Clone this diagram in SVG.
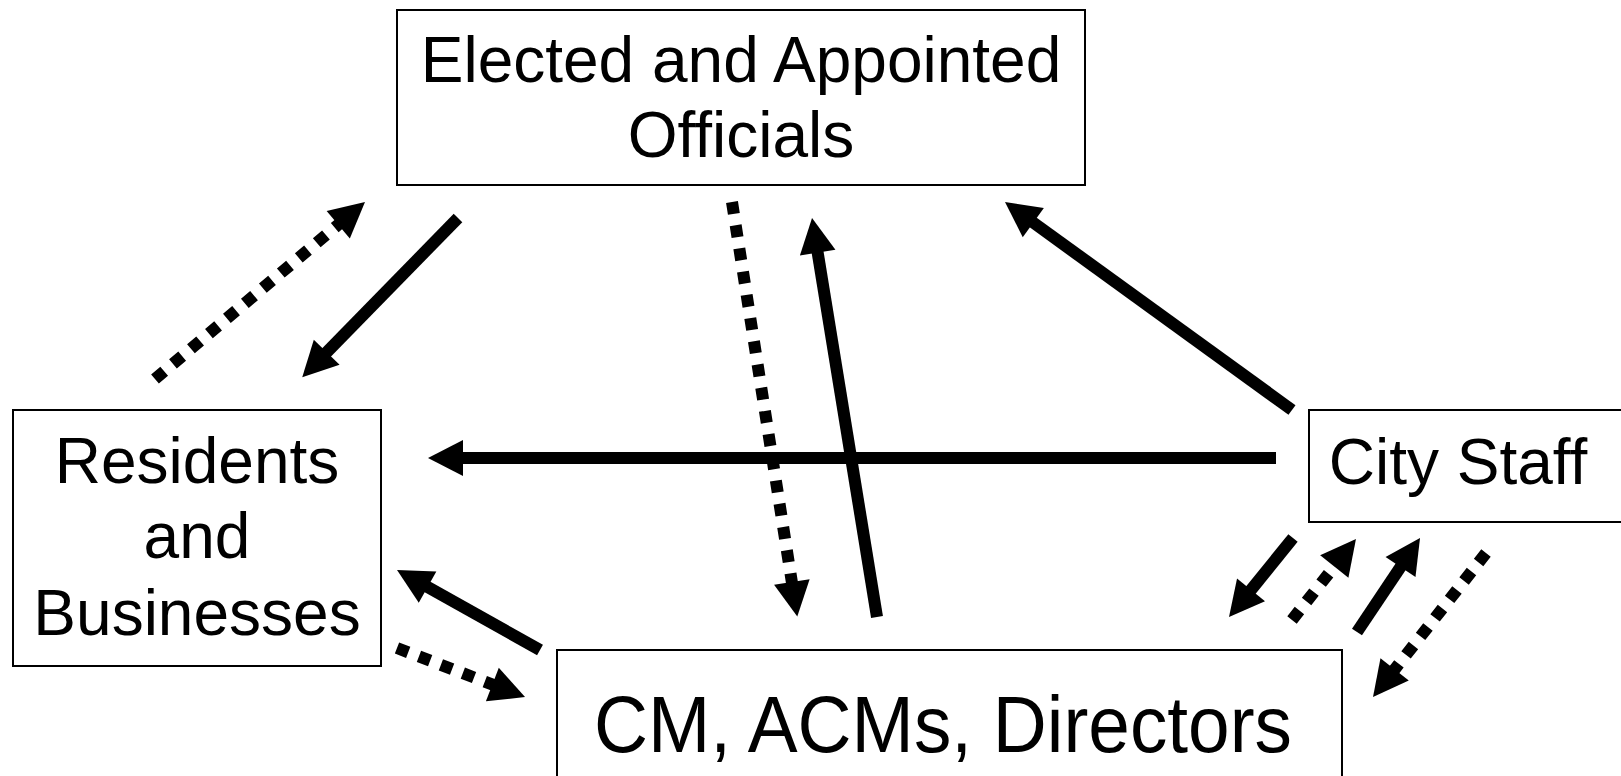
<svg xmlns="http://www.w3.org/2000/svg" width="1621" height="776" viewBox="0 0 1621 776">
<style>
.box{fill:#fff;stroke:#000;stroke-width:2}
.lbl{font-family:"Liberation Sans",Arial,sans-serif;font-size:64px;fill:#000;text-anchor:middle}
.solid{stroke:#000;stroke-width:12;fill:none;marker-end:url(#head)}
.dot{stroke:#000;stroke-width:12;fill:none;stroke-dasharray:12 11.5;marker-end:url(#head)}
</style>
<defs>
<marker id="head" markerUnits="userSpaceOnUse" markerWidth="40" markerHeight="40" viewBox="-2 -20 38 40" refX="0" refY="0" orient="auto">
<path d="M-1,-18 L34,0 L-1,18 Z" fill="#000"/>
</marker>
</defs>
<rect width="1621" height="776" fill="#fff"/>
<g id="elected">
<rect class="box" x="397" y="10" width="688" height="175"/>
<text class="lbl" x="741" y="82">Elected and Appointed</text>
<text class="lbl" x="741" y="157">Officials</text>
</g>
<g id="residents">
<rect class="box" x="13" y="410" width="368" height="256"/>
<text class="lbl" x="197" y="483">Residents</text>
<text class="lbl" x="197" y="558">and</text>
<text class="lbl" x="197" y="635">Businesses</text>
</g>
<g id="citystaff">
<rect class="box" x="1309" y="410" width="320" height="112"/>
<text class="lbl" x="1458" y="484">City Staff</text>
</g>
<g id="cm">
<rect class="box" x="557" y="650" width="785" height="140"/>
<text class="lbl" x="943" y="752" style="font-size:79px" textLength="698" lengthAdjust="spacingAndGlyphs">CM, ACMs, Directors</text>
</g>
<g id="connectors">
<line class="dot" x1="155" y1="379" x2="339" y2="224"/>
<line class="solid" x1="458" y1="218" x2="326" y2="353"/>
<line class="dot" x1="732" y1="202" x2="792" y2="583"/>
<line class="solid" x1="877" y1="617" x2="817.5" y2="251.6"/>
<line class="solid" x1="1276" y1="458" x2="462" y2="458"/>
<line class="solid" x1="1292" y1="410" x2="1032.5" y2="222"/>
<line class="solid" x1="540" y1="650" x2="426.7" y2="586.6"/>
<line class="dot" x1="397" y1="648" x2="493.3" y2="684.9"/>
<line class="solid" x1="1293" y1="538" x2="1250.4" y2="590.6"/>
<line class="dot" x1="1292" y1="620" x2="1334.9" y2="565.7"/>
<line class="solid" x1="1357" y1="632" x2="1401.1" y2="566.2"/>
<line class="dot" x1="1486" y1="553" x2="1394" y2="670.2"/>
</g>
</svg>
